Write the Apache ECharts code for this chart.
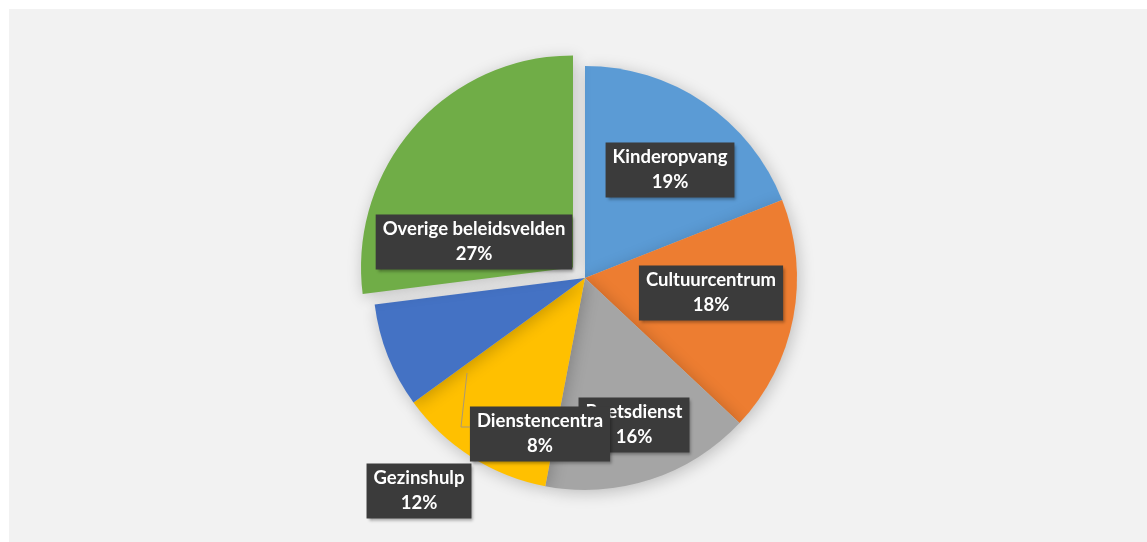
<!DOCTYPE html>
<html>
<head>
<meta charset="utf-8">
<script src="https://cdn.jsdelivr.net/npm/echarts@6/dist/echarts.min.js"></script>
<style>
  html, body { margin: 0; padding: 0; background: #ffffff; }
  #chart { position: absolute; left: 9px; top: 9px; width: 1138px; height: 533px; background: #f2f2f2; }
</style>
</head>
<body>
<div id="chart"></div>
<script>
// data
const categories = ['Kinderopvang', 'Cultuurcentrum', 'Poetsdienst', 'Gezinshulp', 'Dienstencentra', 'Overige beleidsvelden']
const shares = [19, 18, 16, 12, 8, 27]

// styling
const colors = ['#5b9bd5', '#ed7d31', '#a5a5a5', '#ffc000', '#4472c4', '#70ad47']
const explodedIndex = 5
// label box centres, relative to the chart div (labels were moved by hand in the original)
const labelPos = [[661, 161], [702, 284], [625, 416], [410, 482], [531, 425], [465, 233]]
const pieCenter = [576, 269]
const pieRadius = 212
const explodeDist = 16

const chart = echarts.init(document.getElementById('chart'))

// direction of the exploded slice (mid angle, clockwise from 12 o'clock)
const total = shares.reduce((a, b) => a + b, 0)
const before = shares.slice(0, explodedIndex).reduce((a, b) => a + b, 0)
const midAng = (before + shares[explodedIndex] / 2) / total * 2 * Math.PI
const explodedCenter = [pieCenter[0] + explodeDist * Math.sin(midAng), pieCenter[1] - explodeDist * Math.cos(midAng)]

const labelStyle = {
  show: true,
  position: 'outside',
  formatter: p => p.name + '\n' + p.value + '%',
  color: '#ffffff',
  fontFamily: 'Lato',
  fontWeight: 'bold',
  fontSize: 18.5,
  lineHeight: 25,
  align: 'center',
  backgroundColor: '#3b3b3b',
  padding: [3, 7, 2, 7],
  shadowColor: 'rgba(0,0,0,0.35)',
  shadowBlur: 3,
  shadowOffsetX: 2,
  shadowOffsetY: 2
}

function layoutLabel (params) {
  const p = labelPos[params.dataIndex]
  return { x: p[0], y: p[1], align: 'center', verticalAlign: 'middle' }
}

const sliceShadow = {
  borderWidth: 0,
  shadowBlur: 16,
  shadowColor: 'rgba(0,0,0,0.22)',
  shadowOffsetX: 2,
  shadowOffsetY: 3
}

// main pie: every slice but the exploded one
const mainData = categories.map((name, i) => {
  const hidden = i === explodedIndex
  return {
    name: name,
    value: shares[i],
    itemStyle: { color: hidden ? 'rgba(0,0,0,0)' : colors[i] },
    label: { show: !hidden }
  }
})
// exploded pie: only the pulled-out slice is visible
const explodedData = categories.map((name, i) => {
  const shown = i === explodedIndex
  return {
    name: name,
    value: shares[i],
    itemStyle: { color: shown ? colors[i] : 'rgba(0,0,0,0)' },
    label: { show: shown }
  }
})

chart.setOption({
  animation: false,
  series: [{
    type: 'pie',
    center: pieCenter,
    radius: pieRadius,
    startAngle: 90,
    clockwise: true,
    avoidLabelOverlap: false,
    silent: true,
    itemStyle: sliceShadow,
    label: labelStyle,
    labelLine: { show: false },
    labelLayout: layoutLabel,
    data: mainData
  }, {
    type: 'pie',
    center: explodedCenter,
    radius: pieRadius,
    startAngle: 90,
    clockwise: true,
    avoidLabelOverlap: false,
    silent: true,
    itemStyle: sliceShadow,
    label: labelStyle,
    labelLine: { show: false },
    labelLayout: layoutLabel,
    data: explodedData
  }],
  graphic: [{
    // leader line of the Dienstencentra label
    type: 'polyline',
    z: 100,
    shape: { points: [[458, 364], [452, 418], [461, 418]] },
    style: { stroke: '#a89878', lineWidth: 1, fill: null }
  }]
})
</script>
</body>
</html>
